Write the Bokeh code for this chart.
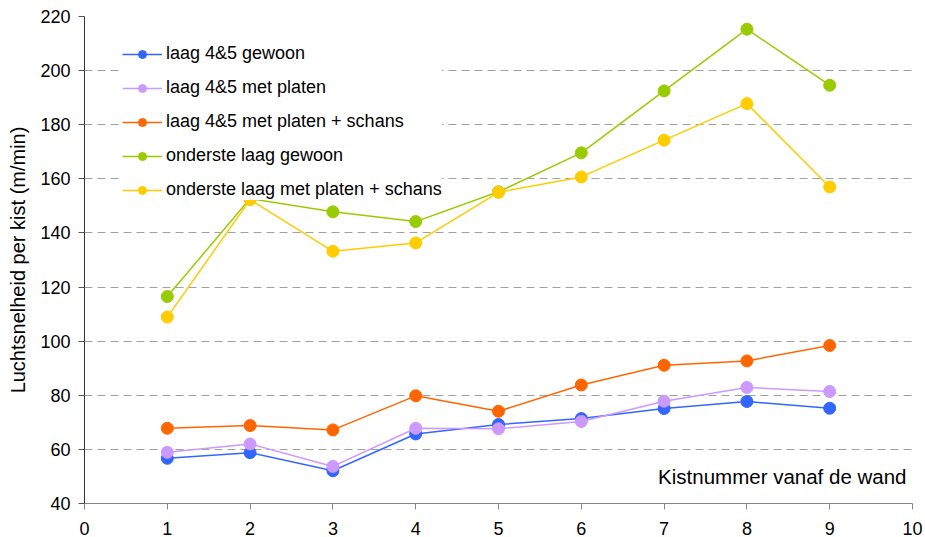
from bokeh.plotting import figure
from bokeh.models import Range1d, FixedTicker, Legend, LegendItem, Label, ColumnDataSource
from bokeh.embed import file_html
from bokeh.resources import INLINE

kist = [1, 2, 3, 4, 5, 6, 7, 8, 9]
laag45_gewoon = [56.7, 58.8, 52.1, 65.7, 69.2, 71.4, 75.1, 77.7, 75.2]
laag45_platen = [58.9, 62.0, 53.7, 67.8, 67.6, 70.3, 77.8, 82.9, 81.4]
laag45_platen_schans = [67.8, 68.8, 67.2, 79.8, 74.1, 83.8, 91.1, 92.7, 98.4]
onderste_gewoon = [116.5, 152.7, 147.8, 144.2, 155.2, 169.6, 192.5, 215.3, 194.6]
onderste_platen_schans = [108.9, 152.3, 133.2, 136.3, 155.0, 160.7, 174.3, 187.8, 157.0]

series_names = [
    "laag 4&5 gewoon",
    "laag 4&5 met platen",
    "laag 4&5 met platen + schans",
    "onderste laag gewoon",
    "onderste laag met platen + schans",
]
series_values = [laag45_gewoon, laag45_platen, laag45_platen_schans,
                 onderste_gewoon, onderste_platen_schans]
series_colors = ["#3366FF", "#CC99FF", "#FF6600", "#99CC00", "#FFCC00"]

x_ticks = list(range(0, 11))
y_ticks = list(range(40, 221, 20))

FONT = "Liberation Sans"

p = figure(width=925, height=537, output_backend="svg", toolbar_location=None,
           x_range=Range1d(0, 10), y_range=Range1d(40, 220),
           min_border_left=84, min_border_right=13, min_border_top=16,
           min_border_bottom=34)
p.outline_line_color = None
p.background_fill_color = "white"

p.xgrid.visible = False
p.ygrid.ticker = FixedTicker(ticks=y_ticks)
p.ygrid.grid_line_color = "#a0a0a0"
p.ygrid.grid_line_dash = "8 5"
p.ygrid.grid_line_width = 1

p.xaxis.ticker = FixedTicker(ticks=x_ticks)
p.yaxis.ticker = FixedTicker(ticks=y_ticks)
for ax in (p.xaxis, p.yaxis):
    ax.major_label_text_font = FONT
    ax.major_label_text_font_size = "18px"
    ax.major_label_text_color = "black"
    ax.major_tick_in = 0
    ax.major_tick_out = 6
    ax.minor_tick_line_color = None
    ax.axis_label_text_font = FONT
    ax.axis_label_text_font_style = "normal"
    ax.axis_label_text_color = "black"

p.xaxis.axis_line_color = "#868686"
p.xaxis.major_tick_line_color = "#868686"
p.xaxis.major_label_standoff = 12
p.yaxis.axis_line_color = "#333333"
p.yaxis.major_tick_line_color = "#555555"
p.yaxis.major_label_standoff = 8
p.yaxis.axis_label = "Luchtsnelheid per kist (m/min)"
p.yaxis.axis_label_text_font_size = "20px"
p.yaxis.axis_label_standoff = 8

items = []
for name, vals, col in zip(series_names, series_values, series_colors):
    src = ColumnDataSource(dict(x=kist, y=vals))
    ln = p.line("x", "y", source=src, line_color=col, line_width=1.5)
    sc = p.scatter("x", "y", source=src, size=12, fill_color=col, line_color=col)
    items.append(LegendItem(label=name, renderers=[ln, sc]))

legend = Legend(items=items, location=(38, 303), orientation="vertical",
                label_text_font=FONT, label_text_font_size="18px",
                label_text_color="black", glyph_width=40, glyph_height=20,
                label_height=20, spacing=13, padding=10, margin=0,
                label_standoff=4, border_line_color=None,
                background_fill_color="white", background_fill_alpha=1.0)
legend.level = "underlay"
p.add_layout(legend, "center")

p.add_layout(Label(x=10, y=50, x_offset=-6, text="Kistnummer vanaf de wand",
                   text_align="right", text_baseline="middle",
                   text_font=FONT, text_font_size="20.5px", text_color="black"))

open("out.html", "w").write(file_html(p, INLINE))
